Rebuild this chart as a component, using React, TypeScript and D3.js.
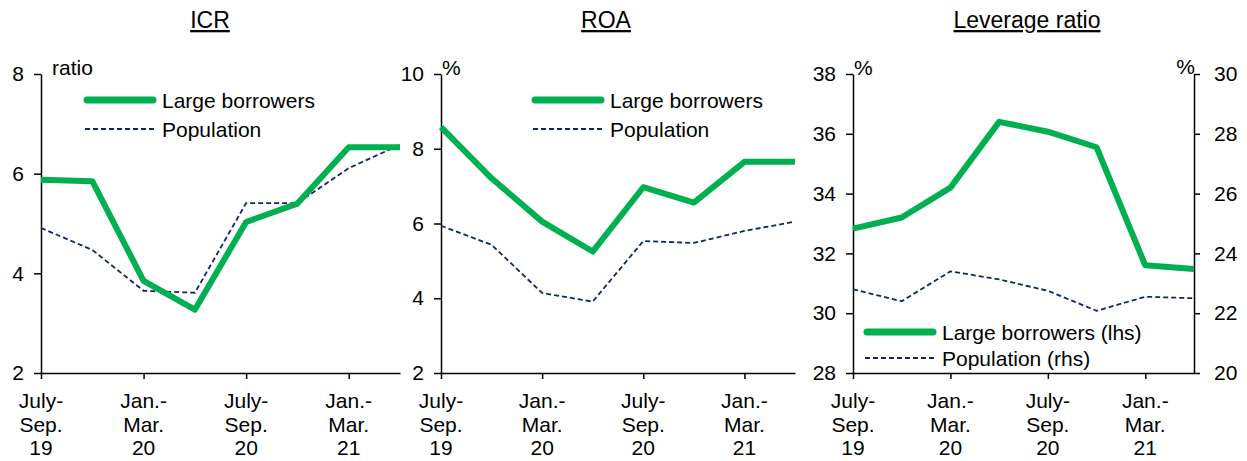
import React, { useEffect, useRef } from 'react';
import * as d3 from 'd3';

// quarters, Jul-Sep 2019 .. Apr-Jun 2021
const quarters = ['2019Q3', '2019Q4', '2020Q1', '2020Q2', '2020Q3', '2020Q4', '2021Q1', '2021Q2'];
const tickQuarters = ['2019Q3', '2020Q1', '2020Q3', '2021Q1'];
const tickLabels = [['July-', 'Sep.', '19'], ['Jan.-', 'Mar.', '20'], ['July-', 'Sep.', '20'], ['Jan.-', 'Mar.', '21']];

const icrLarge = [5.88, 5.85, 3.85, 3.27, 5.03, 5.4, 6.53, 6.53];
const icrPopulation = [4.91, 4.47, 3.65, 3.61, 5.41, 5.41, 6.11, 6.58];

const roaLarge = [8.58, 7.21, 6.05, 5.25, 6.97, 6.56, 7.65, 7.65];
const roaPopulation = [5.94, 5.43, 4.14, 3.91, 5.53, 5.48, 5.8, 6.05];

const levLarge = [32.83, 33.2, 34.2, 36.4, 36.07, 35.55, 31.6, 31.48];
const levPopulation = [22.8, 22.4, 23.4, 23.13, 22.75, 22.08, 22.55, 22.5];

const GREEN = '#00B050';
const NAVY = '#0F2766';
const FONT = '"Liberation Sans", Arial, sans-serif';

const TOP = 74;
const BOTTOM = 373;

function App() {
  const ref = useRef<SVGSVGElement | null>(null);

  useEffect(() => {
    const svg = d3.select(ref.current);
    svg.selectAll('*').remove();

    const panels = [
      { title: 'ICR', x0: 41, x1: 400, cx: 210, domain: [2, 8], ticks: [2, 4, 6, 8], unit: 'ratio',
        large: icrLarge, pop: icrPopulation, popDomain: null as number[] | null, popTicks: [] as number[],
        legend: { x: 85, y: 100, names: ['Large borrowers', 'Population'] } },
      { title: 'ROA', x0: 441, x1: 795, cx: 606, domain: [2, 10], ticks: [2, 4, 6, 8, 10], unit: '%',
        large: roaLarge, pop: roaPopulation, popDomain: null, popTicks: [],
        legend: { x: 533, y: 100, names: ['Large borrowers', 'Population'] } },
      { title: 'Leverage ratio', x0: 853, x1: 1194, cx: 1027, domain: [28, 38], ticks: [28, 30, 32, 34, 36, 38], unit: '%',
        large: levLarge, pop: levPopulation, popDomain: [20, 30], popTicks: [20, 22, 24, 26, 28, 30],
        legend: { x: 865, y: 332, names: ['Large borrowers (lhs)', 'Population (rhs)'] } },
    ];

    panels.forEach(p => {
      const g = svg.append('g').style('font-family', FONT);

      const x = d3.scalePoint<string>().domain(quarters).range([p.x0, p.x1]).padding(0);
      const y = d3.scaleLinear().domain(p.domain).range([BOTTOM, TOP]);
      const y2 = p.popDomain ? d3.scaleLinear().domain(p.popDomain).range([BOTTOM, TOP]) : y;

      // title
      g.append('text')
        .attr('x', p.cx).attr('y', 28)
        .attr('text-anchor', 'middle')
        .style('font-size', '23px')
        .style('text-decoration', 'underline')
        .text(p.title);

      // left axis
      const yAxis = g.append('g')
        .attr('transform', `translate(${p.x0},0)`)
        .call(d3.axisLeft(y).tickValues(p.ticks).tickSize(7).tickSizeOuter(0).tickPadding(10).tickFormat(d3.format('d')));
      yAxis.select('.domain').attr('stroke', '#000').attr('stroke-width', 1.5);
      yAxis.selectAll('.tick line').attr('stroke', '#000').attr('stroke-width', 1.5);
      yAxis.selectAll('.tick text').style('font-size', '21px').style('font-family', FONT).attr('fill', '#000');

      if (p.popDomain) {
        const rAxis = g.append('g')
          .attr('transform', `translate(${p.x1},0)`)
          .call(d3.axisRight(y2).tickValues(p.popTicks).tickSize(6).tickSizeOuter(0).tickPadding(14).tickFormat(d3.format('d')));
        rAxis.select('.domain').attr('stroke', '#000').attr('stroke-width', 1.5);
        rAxis.selectAll('.tick line').attr('stroke', '#000').attr('stroke-width', 1.5);
        rAxis.selectAll('.tick text').style('font-size', '21px').style('font-family', FONT).attr('fill', '#000');
        g.append('text').attr('x', p.x1 + 1).attr('y', 74)
          .attr('text-anchor', 'end').style('font-size', '21px').text('%');
      }

      // unit label
      g.append('text').attr('x', p.x0 + (p.unit === 'ratio' ? 11 : 1)).attr('y', 75)
        .style('font-size', '21px').text(p.unit);

      // x axis
      const xAxis = g.append('g')
        .attr('transform', `translate(0,${BOTTOM})`)
        .call(d3.axisBottom(x).tickValues(tickQuarters).tickSize(6).tickSizeOuter(0).tickFormat(() => ''));
      xAxis.select('.domain').attr('stroke', '#000').attr('stroke-width', 1.5);
      xAxis.selectAll('.tick line').attr('stroke', '#000').attr('stroke-width', 1.5);

      tickQuarters.forEach((q, i) => {
        const txt = g.append('text')
          .attr('x', x(q)!)
          .attr('y', 408)
          .attr('text-anchor', 'middle')
          .style('font-size', '21px');
        tickLabels[i].forEach((s, j) => {
          txt.append('tspan').attr('x', x(q)!).attr('dy', j === 0 ? 0 : 23.5).text(s);
        });
      });

      // lines
      const popLine = d3.line<number>().x((_, i) => x(quarters[i])!).y(d => y2(d));
      const largeLine = d3.line<number>().x((_, i) => x(quarters[i])!).y(d => y(d));

      g.append('path').datum(p.pop)
        .attr('d', popLine)
        .attr('fill', 'none').attr('stroke', NAVY).attr('stroke-width', 1.8)
        .attr('stroke-dasharray', '5,3');

      g.append('path').datum(p.large)
        .attr('d', largeLine)
        .attr('fill', 'none').attr('stroke', GREEN).attr('stroke-width', 6)
        .attr('stroke-linejoin', 'round');

      // legend
      const lg = p.legend;
      g.append('line').attr('x1', lg.x + 2).attr('x2', lg.x + 68).attr('y1', lg.y).attr('y2', lg.y)
        .attr('stroke', GREEN).attr('stroke-width', 7).attr('stroke-linecap', 'round');
      g.append('text').attr('x', lg.x + 77).attr('y', lg.y + 7.5).style('font-size', '21px').text(lg.names[0]);
      const ly = p.popDomain ? lg.y + 26 : lg.y + 29;
      g.append('line').attr('x1', lg.x).attr('x2', lg.x + 69).attr('y1', ly).attr('y2', ly)
        .attr('stroke', NAVY).attr('stroke-width', 1.8).attr('stroke-dasharray', '5,3');
      g.append('text').attr('x', lg.x + 77).attr('y', ly + 7.5).style('font-size', '21px').text(lg.names[1]);
    });
  }, []);

  return (
    <svg ref={ref} width={1247} height={461}
      style={{ position: 'absolute', left: 0, top: 0, background: '#fff' }} />
  );
}

export default App;
